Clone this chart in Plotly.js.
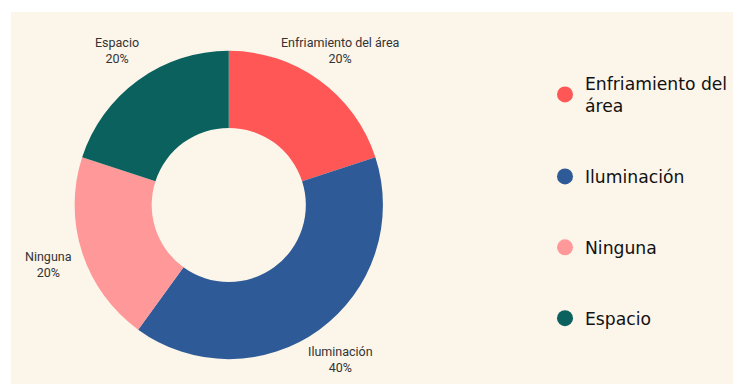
<!DOCTYPE html>
<html>
<head>
<meta charset="utf-8">
<script src="https://cdn.plot.ly/plotly-3.0.1.min.js"></script>
<style>
html,body{margin:0;padding:0;background:#ffffff;width:733px;height:384px;overflow:hidden;}
#chart{position:absolute;left:11px;top:12px;width:722px;height:372px;}
</style>
</head>
<body>
<div id="chart"></div>
<script>
const categories = ["Enfriamiento del área", "Iluminación", "Ninguna", "Espacio"];
const legendLabels = ["Enfriamiento del<br>área", "Iluminación", "Ninguna", "Espacio"];
const values = [20, 40, 20, 20];
const colors = ["#FF5656", "#2E5B97", "#FF9999", "#0A615E"];

const W = 722, H = 372;
const domX = [0.0886, 0.518], domY = [0.0645, 0.898];

const pie = {
  type: 'pie',
  labels: categories,
  values: values,
  sort: false,
  direction: 'clockwise',
  rotation: 0,
  hole: 0.5,
  marker: {colors: colors, line: {width: 0}},
  textinfo: 'none',
  showlegend: false,
  domain: {x: domX, y: domY}
};

// outside labels placed radially at each slice's mid-angle (derived from the data)
const total = values.reduce((a, b) => a + b, 0);
const cx = (domX[0] + domX[1]) / 2, cy = (domY[0] + domY[1]) / 2;
const rOuter = Math.min((domX[1] - domX[0]) * W, (domY[1] - domY[0]) * H) / 2;
const rLabel = rOuter + 36;
let cum = 0;
const annotations = values.map((v, i) => {
  const mid = (cum + v / 2) / total * 2 * Math.PI;
  cum += v;
  return {
    xref: 'paper', yref: 'paper',
    x: cx + rLabel * Math.sin(mid) / W,
    y: cy + rLabel * Math.cos(mid) / H,
    text: categories[i] + '<br>' + Math.round(v / total * 100) + '%',
    showarrow: false,
    xanchor: 'center', yanchor: 'middle',
    font: {family: 'Roboto, sans-serif', size: 12.5, color: '#333333'}
  };
});

const legendTraces = categories.map((c, i) => ({
  type: 'scatter',
  x: [null], y: [null],
  mode: 'markers',
  name: legendLabels[i],
  legendgroup: 'g' + i,
  marker: {color: colors[i], size: 18, symbol: 'circle'},
  showlegend: true,
  hoverinfo: 'skip'
}));

const layout = {
  width: W, height: H,
  margin: {l: 0, r: 0, t: 0, b: 0},
  paper_bgcolor: '#FCF5EA',
  plot_bgcolor: '#FCF5EA',
  xaxis: {visible: false, domain: [0.99, 1]},
  yaxis: {visible: false, domain: [0.99, 1]},
  showlegend: true,
  annotations: annotations,
  legend: {
    x: 0.744, y: 0.856, xanchor: 'left', yanchor: 'top',
    bgcolor: 'rgba(0,0,0,0)',
    font: {family: 'DejaVu Sans, sans-serif', size: 17.2, color: '#111111'},
    tracegroupgap: 45.5,
    itemsizing: 'trace'
  },
  font: {family: 'Roboto, sans-serif'}
};

Plotly.newPlot('chart', [pie].concat(legendTraces), layout, {staticPlot: true, displayModeBar: false});
</script>
</body>
</html>
